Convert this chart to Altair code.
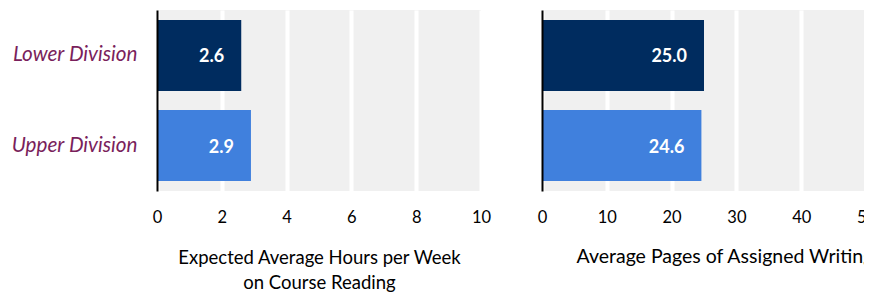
import altair as alt
import pandas as pd

categories = ["Lower Division", "Upper Division"]
reading_hours = [2.6, 2.9]
writing_pages = [25.0, 24.6]
bar_colors = ["#002C5F", "#4080DD"]

reading_ticks = [0, 2, 4, 6, 8, 10]
writing_ticks = [0, 10, 20, 30, 40, 50]

reading_title = ["Expected Average Hours per Week", "on Course Reading"]
writing_title = "Average Pages of Assigned Writing"

df_read = pd.DataFrame({"division": categories, "value": reading_hours})
df_write = pd.DataFrame({"division": categories, "value": writing_pages})

FONT = "Lato"


def panel(df, domain_max, ticks, title, show_labels, title_padding, title_size, title_x=None):
    x_kwargs = dict(
        values=ticks, domain=False, ticks=False, tickSize=0, grid=True,
        gridColor="#FFFFFF", gridWidth=4, gridOpacity=1, labelFlush=False,
        labelFont=FONT, labelFontSize=16.5, labelColor="#000000", labelPadding=18,
        title=title, titleFont=FONT, titleFontSize=title_size, titleFontWeight="normal",
        titleColor="#000000", titlePadding=title_padding, titleLineHeight=25,
    )
    if title_x is not None:
        x_kwargs.update(titleX=title_x, titleAlign="left")
    x_axis = alt.Axis(**x_kwargs)
    y_axis = alt.Axis(
        labels=show_labels, domain=True, domainColor="#000000", domainWidth=2,
        ticks=False, tickSize=0, grid=False, title=None, zindex=1,
        labelFont=FONT, labelFontSize=20.7, labelFontStyle="italic",
        labelColor="#7A1F5C", labelPadding=20,
    )
    x = alt.X("value:Q", scale=alt.Scale(domain=[0, domain_max], nice=False, zero=True), axis=x_axis)
    y = alt.Y("division:N", sort=categories,
              scale=alt.Scale(domain=categories, paddingInner=0.211, paddingOuter=0.111),
              axis=y_axis)
    base = alt.Chart(df).encode(x=x, y=y)
    bars = base.mark_bar().encode(
        color=alt.Color("division:N", scale=alt.Scale(domain=categories, range=bar_colors), legend=None)
    )
    labels = base.mark_text(
        align="right", baseline="middle", dx=-17, dy=2, color="#FFFFFF",
        font=FONT, fontSize=18, fontWeight="bold",
    ).encode(text=alt.Text("value:Q", format=".1f"))
    return (bars + labels).properties(width=324, height=181)


left = panel(df_read, 10, reading_ticks, reading_title, True, 23, 18.5)
right = panel(df_write, 50, writing_ticks, writing_title, False, 21.5, 19.5, title_x=34)

chart = (
    alt.hconcat(left, right, spacing=46)
    .properties(padding={"left": 2, "top": 2, "right": -12, "bottom": 5})
    .configure_view(fill="#F0F0F0", strokeWidth=0)
)

chart.save("out.html", embed_options={"renderer": "svg", "actions": False})
